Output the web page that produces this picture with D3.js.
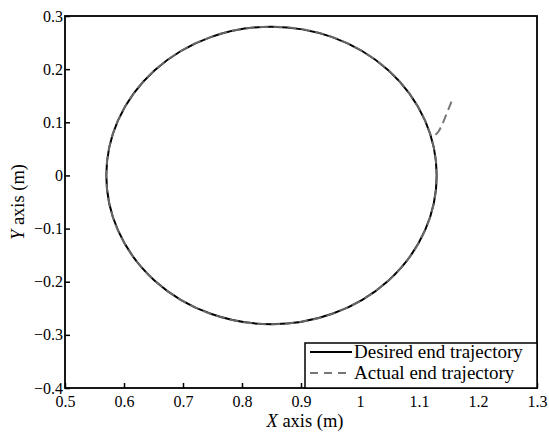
<!DOCTYPE html>
<html><head><meta charset="utf-8">
<script src="https://cdn.jsdelivr.net/npm/d3@7"></script>
<style>body{margin:0;background:#fff}svg{display:block}
svg text, .tick text{font-family:"Liberation Serif","Times New Roman",serif !important;fill:#000}</style>
</head><body>
<script>
const xTicks = [0.5,0.6,0.7,0.8,0.9,1,1.1,1.2,1.3];
const yTicks = [-0.4,-0.3,-0.2,-0.1,0,0.1,0.2,0.3];
const circleCenter = [0.85, 0];
const circleRadius = 0.28;
// transient part of the actual trajectory before it joins the circle
const actualX = [1.155, 1.150, 1.144, 1.138, 1.132, 1.126, 1.121];
const actualY = [0.139, 0.125, 0.108, 0.092, 0.080, 0.075, 0.076];
const legendLabels = ["Desired end trajectory","Actual end trajectory"];

const W=549,H=432, m={l:65,t:16,r:12,b:44};
const svg=d3.select("body").append("svg").attr("width",W).attr("height",H);
const x=d3.scaleLinear().domain([0.5,1.3]).range([m.l,W-m.r]);
const y=d3.scaleLinear().domain([-0.4,0.3]).range([H-m.b,m.t]);
const fmt=d=>d===0?"0":(d<0?"\u2212":"")+String(Math.abs(d)).replace(/^0?\./,"0.");

// frame
svg.append("rect").attr("x",x(0.5)).attr("y",y(0.3)).attr("width",x(1.3)-x(0.5)).attr("height",y(-0.4)-y(0.3))
  .attr("fill","none").attr("stroke","#000").attr("stroke-width",1.8);

const xa=svg.append("g").attr("transform",`translate(0,${y(-0.4)})`)
  .call(d3.axisBottom(x).tickValues(xTicks).tickSize(-5).tickFormat(d=>String(d)));
const ya=svg.append("g").attr("transform",`translate(${x(0.5)},0)`)
  .call(d3.axisLeft(y).tickValues(yTicks).tickSize(-5).tickFormat(fmt));
[xa,ya].forEach(g=>{g.attr("font-family",null).attr("font-size",null);
  g.select(".domain").remove();g.selectAll("line").attr("stroke","#000").attr("stroke-width",1.5);
  g.selectAll("text").style("font-size","16px");});
xa.selectAll("text").attr("dy",null).attr("y",19);
ya.selectAll("text").attr("x",-2).attr("dy","0.32em");

// desired circle
const cx=x(circleCenter[0]), cy=y(circleCenter[1]);
const rx=x(circleCenter[0]+circleRadius)-cx, ry=cy-y(circleCenter[1]+circleRadius);
svg.append("ellipse").attr("cx",cx).attr("cy",cy).attr("rx",rx).attr("ry",ry)
  .attr("fill","none").attr("stroke","#000").attr("stroke-width",2);
// actual: follows circle after transient
svg.append("ellipse").attr("cx",cx).attr("cy",cy).attr("rx",rx).attr("ry",ry)
  .attr("fill","none").attr("stroke","#808080").attr("stroke-width",2).attr("stroke-dasharray","9,5").attr("opacity",0.8);
const line=d3.line().x(d=>x(d[0])).y(d=>y(d[1])).curve(d3.curveBasis);
svg.append("path").datum(actualX.map((v,i)=>[v,actualY[i]])).attr("d",line)
  .attr("fill","none").attr("stroke","#777").attr("stroke-width",2).attr("stroke-dasharray","9,5");

// legend
const lg=svg.append("g");
lg.append("rect").attr("x",305).attr("y",343).attr("width",x(1.3)-305).attr("height",y(-0.4)-343)
  .attr("fill","#fff").attr("stroke","#000").attr("stroke-width",1.5);
lg.append("line").attr("x1",310).attr("x2",352).attr("y1",352).attr("y2",352).attr("stroke","#000").attr("stroke-width",2);
lg.append("line").attr("x1",310).attr("x2",352).attr("y1",373).attr("y2",373).attr("stroke","#777").attr("stroke-width",2).attr("stroke-dasharray","8,6");
legendLabels.forEach((t,i)=>lg.append("text").attr("x",354).attr("y",358+i*21).style("font-size","19px").text(t));

// axis titles
svg.append("text").attr("x",(x(0.5)+x(1.3))/2+4).attr("y",427).attr("text-anchor","middle").style("font-size","18.5px")
  .html('<tspan font-style="italic">X</tspan> axis (m)');
svg.append("text").attr("transform",`translate(24,${(y(0.3)+y(-0.4))/2}) rotate(-90)`).attr("text-anchor","middle").style("font-size","18.5px")
  .html('<tspan font-style="italic">Y</tspan> axis (m)');
</script>
</body></html>
